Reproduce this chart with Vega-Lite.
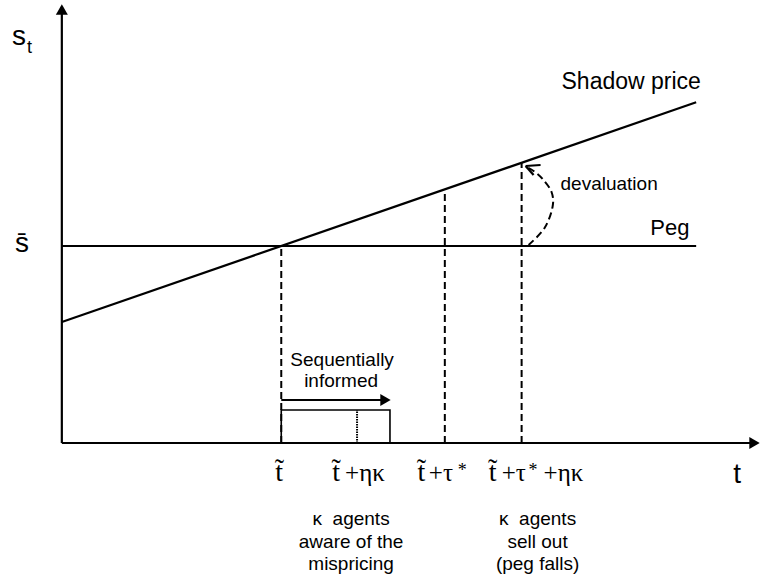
{
  "$schema": "https://vega.github.io/schema/vega-lite/v6.json",
  "width": 760,
  "height": 583,
  "autosize": {"type": "fit", "contains": "padding"},
  "padding": 0,
  "background": "white",
  "config": {"view": {"stroke": null}},
  "datasets": {
    "solid": [
      {"t": 0, "s": 0, "t2": 0, "s2": 430},
      {"t": 0, "s": 0, "t2": 690, "s2": 0},
      {"t": 0, "s": 197, "t2": 636, "s2": 197},
      {"t": 0, "s": 121, "t2": 636, "s2": 340.7},
      {"t": 220, "s": 43, "t2": 320, "s2": 43},
      {"t": 465, "s": 277, "t2": 480, "s2": 278},
      {"t": 465, "s": 277, "t2": 473, "s2": 268}
    ],
    "dashed": [
      {"t": 220, "s": 0, "t2": 220, "s2": 197},
      {"t": 384, "s": 0, "t2": 384, "s2": 253.7},
      {"t": 461, "s": 0, "t2": 461, "s2": 280.3}
    ],
    "dotted": [
      {"t": 296, "s": 0, "t2": 296, "s2": 33}
    ],
    "box": [
      {"t": 220, "s": 0, "t2": 329, "s2": 33}
    ],
    "arc": [
      {"o": 1, "t": 468, "s": 198},
      {"o": 2, "t": 484, "s": 215},
      {"o": 3, "t": 492, "s": 236},
      {"o": 4, "t": 491, "s": 251},
      {"o": 5, "t": 482, "s": 264},
      {"o": 6, "t": 473, "s": 272},
      {"o": 7, "t": 466, "s": 276}
    ],
    "headUp": [{"t": 0, "s": 433.5}],
    "headRight": [{"t": 694.5, "s": 0}, {"t": 324.5, "s": 43}],
    "sans28left": [
      {"t": -50, "s": 398, "label": "s"},
      {"t": -47, "s": 191, "label": "s\u0304"}
    ],
    "sans18left": [{"t": -35, "s": 390, "label": "t"}],
    "sans23left": [
      {"t": 501, "s": 354, "label": "Shadow price"}
    ],
    "sans22left": [
      {"t": 590, "s": 208, "label": "Peg"}
    ],
    "sans19left": [{"t": 500, "s": 253, "label": "devaluation"}],
    "sans19center": [
      {"t": 281, "s": 77, "label": "Sequentially"},
      {"t": 280, "s": 56.3, "label": "informed"},
      {"t": 290, "s": -82, "label": "\u03ba\u00a0 agents"},
      {"t": 290, "s": -105, "label": "aware of the"},
      {"t": 290, "s": -127, "label": "mispricing"},
      {"t": 477, "s": -82, "label": "\u03ba\u00a0 agents"},
      {"t": 477, "s": -105, "label": "sell out"},
      {"t": 477, "s": -127, "label": "(peg falls)"}
    ],
    "sans28center": [{"t": 677, "s": -40, "label": "t"}],
    "serif28center": [
      {"t": 218, "s": -38, "label": "t\u0303"},
      {"t": 275, "s": -38, "label": "t\u0303"},
      {"t": 360.5, "s": -38, "label": "t\u0303"},
      {"t": 432, "s": -38, "label": "t\u0303"}
    ],
    "serif25left": [
      {"t": 284, "s": -38, "label": "+\u03b7\u03ba"},
      {"t": 368, "s": -38, "label": "+\u03c4"},
      {"t": 441, "s": -38, "label": "+\u03c4"},
      {"t": 483, "s": -38, "label": "+\u03b7\u03ba"}
    ],
    "serif18left": [
      {"t": 397, "s": -33, "label": "*"},
      {"t": 468, "s": -33, "label": "*"}
    ]
  },
  "encoding": {
    "x": {"field": "t", "type": "quantitative", "axis": null, "scale": {"domain": [-62, 698], "nice": false, "zero": false}},
    "y": {"field": "s", "type": "quantitative", "axis": null, "scale": {"domain": [-140, 443], "nice": false, "zero": false}}
  },
  "layer": [
    {
      "data": {"name": "solid"},
      "mark": {"type": "rule", "color": "black", "strokeWidth": 2.2},
      "encoding": {"x2": {"field": "t2"}, "y2": {"field": "s2"}}
    },
    {
      "data": {"name": "dashed"},
      "mark": {"type": "rule", "color": "black", "strokeWidth": 2, "strokeDash": [7, 4]},
      "encoding": {"x2": {"field": "t2"}, "y2": {"field": "s2"}}
    },
    {
      "data": {"name": "dotted"},
      "mark": {"type": "rule", "color": "black", "strokeWidth": 2, "strokeDash": [1.5, 1]},
      "encoding": {"x2": {"field": "t2"}, "y2": {"field": "s2"}}
    },
    {
      "data": {"name": "box"},
      "mark": {"type": "rect", "fill": null, "fillOpacity": 0, "stroke": "black", "strokeWidth": 1.6},
      "encoding": {"x2": {"field": "t2"}, "y2": {"field": "s2"}}
    },
    {
      "data": {"name": "arc"},
      "mark": {"type": "line", "color": "black", "strokeWidth": 2, "strokeDash": [7, 4], "interpolate": "cardinal"},
      "encoding": {"order": {"field": "o", "type": "quantitative"}}
    },
    {
      "data": {"name": "headUp"},
      "mark": {"type": "point", "shape": "triangle-up", "filled": true, "color": "black", "opacity": 1, "size": 144}
    },
    {
      "data": {"name": "headRight"},
      "mark": {"type": "point", "shape": "triangle-right", "filled": true, "color": "black", "opacity": 1, "size": 144}
    },
    {
      "data": {"name": "sans28left"},
      "mark": {"type": "text", "font": "Liberation Sans", "fontSize": 28, "align": "left", "baseline": "alphabetic", "color": "black"},
      "encoding": {"text": {"field": "label"}}
    },
    {
      "data": {"name": "sans18left"},
      "mark": {"type": "text", "font": "Liberation Sans", "fontSize": 18, "align": "left", "baseline": "alphabetic", "color": "black"},
      "encoding": {"text": {"field": "label"}}
    },
    {
      "data": {"name": "sans23left"},
      "mark": {"type": "text", "font": "Liberation Sans", "fontSize": 23, "align": "left", "baseline": "alphabetic", "color": "black"},
      "encoding": {"text": {"field": "label"}}
    },
    {
      "data": {"name": "sans22left"},
      "mark": {"type": "text", "font": "Liberation Sans", "fontSize": 22, "align": "left", "baseline": "alphabetic", "color": "black"},
      "encoding": {"text": {"field": "label"}}
    },
    {
      "data": {"name": "sans19left"},
      "mark": {"type": "text", "font": "Liberation Sans", "fontSize": 19, "align": "left", "baseline": "alphabetic", "color": "black"},
      "encoding": {"text": {"field": "label"}}
    },
    {
      "data": {"name": "sans19center"},
      "mark": {"type": "text", "font": "Liberation Sans", "fontSize": 19, "align": "center", "baseline": "alphabetic", "color": "black"},
      "encoding": {"text": {"field": "label"}}
    },
    {
      "data": {"name": "sans28center"},
      "mark": {"type": "text", "font": "Liberation Sans", "fontSize": 28, "align": "center", "baseline": "alphabetic", "color": "black"},
      "encoding": {"text": {"field": "label"}}
    },
    {
      "data": {"name": "serif28center"},
      "mark": {"type": "text", "font": "Liberation Serif", "fontSize": 28, "align": "center", "baseline": "alphabetic", "color": "black"},
      "encoding": {"text": {"field": "label"}}
    },
    {
      "data": {"name": "serif25left"},
      "mark": {"type": "text", "font": "Liberation Serif", "fontSize": 25, "align": "left", "baseline": "alphabetic", "color": "black"},
      "encoding": {"text": {"field": "label"}}
    },
    {
      "data": {"name": "serif18left"},
      "mark": {"type": "text", "font": "Liberation Serif", "fontSize": 18, "align": "left", "baseline": "alphabetic", "color": "black"},
      "encoding": {"text": {"field": "label"}}
    }
  ]
}
